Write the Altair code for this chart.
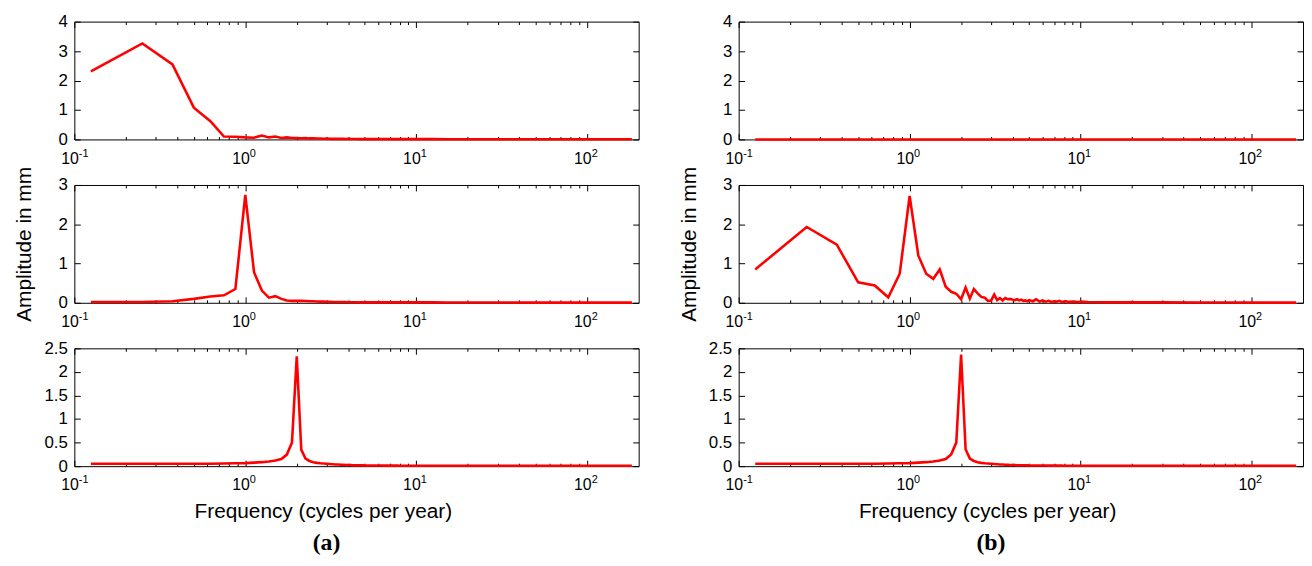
import altair as alt
import pandas as pd

# ---------------- data ----------------
FREQ = [
    0.125, 0.25, 0.375, 0.5, 0.625, 0.75, 0.875, 1.0,
    1.125, 1.25, 1.375, 1.5, 1.625, 1.75, 1.875, 2.0,
    2.125, 2.25, 2.375, 2.5, 2.625, 2.75, 2.875, 3.0,
    3.125, 3.25, 3.375, 3.5, 3.625, 3.75, 3.875, 4.0,
    4.125, 4.25, 4.375, 4.5, 4.625, 4.75, 4.875, 5.0,
    5.25, 5.5, 5.75, 6.0, 6.25, 6.5, 6.75, 7.0, 7.25, 7.5,
    7.75, 8.0, 8.25, 8.5, 8.75, 9.0, 9.25, 9.5, 9.75, 10.0,
    11.0, 12.5, 15.0, 20.0, 30.0, 50.0, 80.0, 120.0, 182.5,
]

AMP_A1 = [
    2.31, 3.26, 2.55, 1.08, 0.62, 0.10, 0.09, 0.07,
    0.06, 0.13, 0.07, 0.10, 0.05, 0.07, 0.05, 0.045,
    0.04, 0.045, 0.035, 0.04, 0.03, 0.03, 0.025, 0.03,
    0.02, 0.025, 0.02, 0.02, 0.02, 0.02, 0.015, 0.02,
    0.015, 0.015, 0.015, 0.015, 0.01, 0.015, 0.01, 0.01,
    0.01, 0.01, 0.01, 0.01, 0.01, 0.01, 0.01, 0.01, 0.01, 0.01,
    0.01, 0.01, 0.01, 0.01, 0.01, 0.01, 0.01, 0.01, 0.01, 0.01,
    0.01, 0.01, 0.008, 0.007, 0.006, 0.005, 0.005, 0.005, 0.005,
]

AMP_B1 = [
    0.0, 0.0, 0.0, 0.0, 0.0, 0.0, 0.0, 0.0,
    0.0, 0.0, 0.0, 0.0, 0.0, 0.0, 0.0, 0.0,
    0.0, 0.0, 0.0, 0.0, 0.0, 0.0, 0.0, 0.0,
    0.0, 0.0, 0.0, 0.0, 0.0, 0.0, 0.0, 0.0,
    0.0, 0.0, 0.0, 0.0, 0.0, 0.0, 0.0, 0.0,
    0.0, 0.0, 0.0, 0.0, 0.0, 0.0, 0.0, 0.0, 0.0, 0.0,
    0.0, 0.0, 0.0, 0.0, 0.0, 0.0, 0.0, 0.0, 0.0, 0.0,
    0.0, 0.0, 0.0, 0.0, 0.0, 0.0, 0.0, 0.0, 0.0,
]

AMP_A2 = [
    0.02, 0.02, 0.04, 0.10, 0.16, 0.19, 0.35, 2.75,
    0.78, 0.31, 0.13, 0.17, 0.10, 0.06, 0.05, 0.05,
    0.05, 0.045, 0.04, 0.04, 0.035, 0.03, 0.03, 0.025,
    0.025, 0.02, 0.02, 0.02, 0.02, 0.02, 0.02, 0.015,
    0.015, 0.015, 0.015, 0.015, 0.01, 0.01, 0.01, 0.01,
    0.01, 0.01, 0.01, 0.01, 0.01, 0.01, 0.01, 0.01, 0.01, 0.01,
    0.01, 0.01, 0.01, 0.01, 0.01, 0.01, 0.01, 0.01, 0.01, 0.01,
    0.01, 0.01, 0.008, 0.007, 0.006, 0.005, 0.005, 0.005, 0.005,
]

AMP_B2 = [
    0.85, 1.93, 1.48, 0.52, 0.44, 0.14, 0.74, 2.72,
    1.20, 0.74, 0.61, 0.85, 0.41, 0.28, 0.23, 0.09,
    0.39, 0.11, 0.35, 0.24, 0.15, 0.13, 0.05, 0.06,
    0.21, 0.07, 0.12, 0.06, 0.12, 0.09, 0.10, 0.08,
    0.07, 0.09, 0.06, 0.08, 0.05, 0.06, 0.04, 0.07,
    0.04, 0.09, 0.03, 0.06, 0.03, 0.05, 0.02, 0.04, 0.03, 0.05,
    0.02, 0.03, 0.04, 0.02, 0.03, 0.02, 0.03, 0.02, 0.02, 0.03,
    0.02, 0.015, 0.01, 0.01, 0.01, 0.008, 0.006, 0.005, 0.005,
]

AMP_A3 = [
    0.05, 0.05, 0.05, 0.05, 0.05, 0.055, 0.06, 0.065,
    0.075, 0.085, 0.10, 0.12, 0.15, 0.245, 0.50, 2.33,
    0.35, 0.16, 0.11, 0.085, 0.07, 0.06, 0.055, 0.05,
    0.045, 0.04, 0.035, 0.035, 0.03, 0.03, 0.025, 0.025,
    0.025, 0.02, 0.02, 0.02, 0.02, 0.02, 0.02, 0.015,
    0.015, 0.015, 0.015, 0.015, 0.015, 0.012, 0.012, 0.012, 0.012, 0.012,
    0.012, 0.01, 0.01, 0.01, 0.01, 0.01, 0.01, 0.01, 0.01, 0.01,
    0.01, 0.01, 0.01, 0.01, 0.01, 0.01, 0.01, 0.01, 0.01,
]

AMP_B3 = [
    0.05, 0.05, 0.05, 0.05, 0.05, 0.055, 0.06, 0.065,
    0.075, 0.085, 0.10, 0.12, 0.15, 0.25, 0.50, 2.37,
    0.36, 0.16, 0.11, 0.085, 0.07, 0.06, 0.055, 0.05,
    0.045, 0.04, 0.035, 0.035, 0.03, 0.03, 0.025, 0.025,
    0.025, 0.02, 0.02, 0.02, 0.02, 0.02, 0.02, 0.015,
    0.015, 0.015, 0.015, 0.015, 0.015, 0.012, 0.012, 0.012, 0.012, 0.012,
    0.012, 0.01, 0.01, 0.01, 0.01, 0.01, 0.01, 0.01, 0.01, 0.01,
    0.01, 0.01, 0.01, 0.01, 0.01, 0.01, 0.01, 0.01, 0.01,
]

X_DECADES = [0.1, 1, 10, 100]
X_TICKS = [0.1, 0.2, 0.3, 0.4, 0.5, 0.6, 0.7, 0.8, 0.9,
           1, 2, 3, 4, 5, 6, 7, 8, 9,
           10, 20, 30, 40, 50, 60, 70, 80, 90, 100]
Y_TICKS_TOP = [0, 1, 2, 3, 4]
Y_TICKS_MID = [0, 1, 2, 3]
Y_TICKS_BOT = [0, 0.5, 1, 1.5, 2, 2.5]

X_TITLE = "Frequency (cycles per year)"
Y_TITLE = "Amplitude in mm"

# ---------------- styling ----------------
W, H = 570, 119
FONT = "Liberation Sans"
RED = "#ff0000"
MAJOR_TEST = "indexof([0.1, 1, 10, 100], datum.value) >= 0"


def panel(vals, yticks, ytitle=False, xtitle=False):
    df = pd.DataFrame({"f": FREQ, "a": vals})
    xs = alt.Scale(type="log", domain=[0.1, 200], nice=False)
    ys = alt.Scale(domain=[0, yticks[-1]], nice=False, zero=True)

    # layer 1: visible line, "10" labels + y labels
    xax1 = dict(orient="bottom", values=X_DECADES, labelExpr="'10'",
                ticks=False, tickSize=0, domain=False, grid=False,
                labelAlign="right", labelOffset=4, labelBaseline="alphabetic",
                labelPadding=24, labelFontSize=16, labelFlush=False,
                labelOverlap=False)
    if xtitle:
        xax1.update(title=X_TITLE, titleFontSize=21, titleFontWeight="normal",
                    titleX=251, titleY=52, titleBaseline="alphabetic",
                    titleAlign="center")
    else:
        xax1["title"] = None
    yax1 = dict(orient="left", values=yticks, format="~g", ticks=False,
                tickSize=0, domain=False, grid=False, labelPadding=7,
                labelFontSize=17)
    if ytitle:
        yax1.update(title=Y_TITLE, titleFontSize=21, titleFontWeight="normal",
                    titleX=-44, titleY=H / 2, titleBaseline="alphabetic",
                    titleAlign="center", titleAngle=270)
    else:
        yax1["title"] = None

    l1 = alt.Chart(df).mark_line(color=RED, strokeWidth=2.6).encode(
        x=alt.X("f:Q", scale=xs, axis=alt.Axis(**xax1)),
        y=alt.Y("a:Q", scale=ys, axis=alt.Axis(**yax1)),
    )

    # layer 2: exponent labels + inward ticks on left edge
    l2 = alt.Chart(df).mark_line(opacity=0).encode(
        x=alt.X("f:Q", scale=xs, axis=alt.Axis(
            orient="bottom", values=X_DECADES,
            labelExpr="'' + round(log(datum.value) / LN10)",
            ticks=False, tickSize=0, domain=False, grid=False,
            labelAlign="left", labelOffset=4, labelBaseline="alphabetic",
            labelPadding=17, labelFontSize=11, labelFlush=False,
            labelOverlap=False, title=None)),
        y=alt.Y("a:Q", scale=ys, axis=alt.Axis(
            orient="right", offset=-W, values=yticks, labels=False,
            tickSize=6, domain=False, grid=False, title=None)),
    )

    # layer 3: inward ticks on bottom edge and right edge
    l3 = alt.Chart(df).mark_line(opacity=0).encode(
        x=alt.X("f:Q", scale=xs, axis=alt.Axis(
            orient="top", offset=-H, values=X_TICKS, labels=False,
            tickSize={"condition": {"test": MAJOR_TEST, "value": 6}, "value": 3},
            domain=False, grid=False, title=None)),
        y=alt.Y("a:Q", scale=ys, axis=alt.Axis(
            orient="left", offset=-W, values=yticks, labels=False,
            tickSize=6, domain=False, grid=False, title=None)),
    )

    # layer 4: inward ticks on top edge
    l4 = alt.Chart(df).mark_line(opacity=0).encode(
        x=alt.X("f:Q", scale=xs, axis=alt.Axis(
            orient="bottom", offset=-H, values=X_TICKS, labels=False,
            tickSize={"condition": {"test": MAJOR_TEST, "value": 6}, "value": 3},
            domain=False, grid=False, title=None)),
        y=alt.Y("a:Q", scale=ys, axis=None),
    )

    return alt.layer(l1, l2, l3, l4).resolve_axis(
        x="independent", y="independent").properties(width=W, height=H)


def column(v1, v2, v3, tag):
    return alt.vconcat(
        panel(v1, Y_TICKS_TOP),
        panel(v2, Y_TICKS_MID, ytitle=True),
        panel(v3, Y_TICKS_BOT, xtitle=True),
        spacing=46, bounds="flush",
        title=alt.TitleParams(tag, orient="bottom", anchor="middle",
                              font="Liberation Serif", fontSize=24,
                              fontWeight="bold", color="black",
                              baseline="alphabetic", offset=28),
    )


chart = alt.hconcat(
    column(AMP_A1, AMP_A2, AMP_A3, "(a)"),
    column(AMP_B1, AMP_B2, AMP_B3, "(b)"),
    spacing=38,
    padding={"left": 5, "top": 1, "right": 0, "bottom": 0},
).configure_view(
    stroke="black", strokeWidth=1
).configure_axis(
    labelFont=FONT, titleFont=FONT, labelColor="black", titleColor="black",
    tickColor="black", tickWidth=1
).configure_line(strokeJoin="miter")

chart.save("out.html", embed_options={"renderer": "svg", "actions": False})
